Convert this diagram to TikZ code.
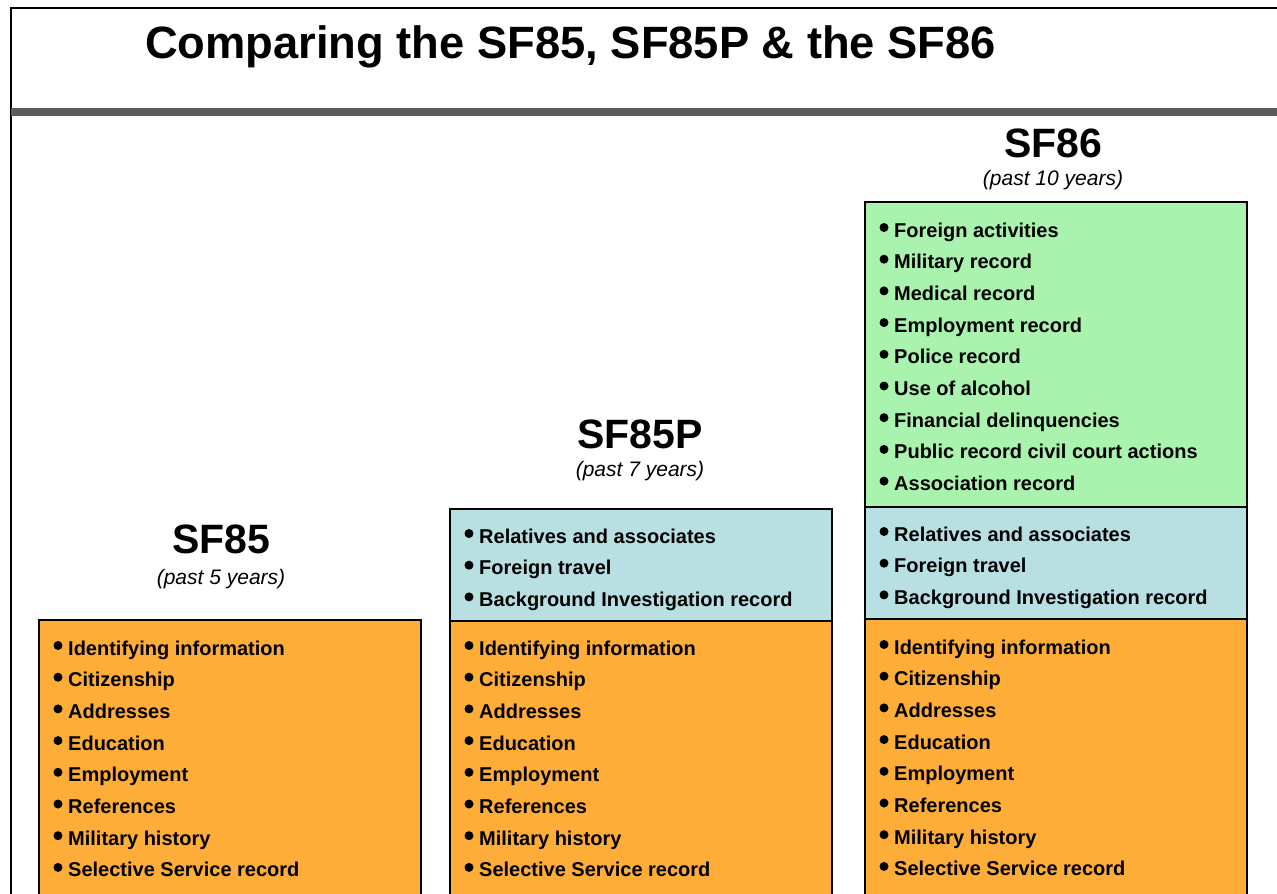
\documentclass[tikz,border=0pt]{standalone}
\usepackage{fontspec}
\setmainfont{Liberation Sans}
\definecolor{boxorange}{HTML}{FFAD39}
\definecolor{boxblue}{HTML}{B8E0E3}
\definecolor{boxgreen}{HTML}{A9F3AE}
\definecolor{bargray}{HTML}{5B5B5B}
\tikzset{
  box/.style={draw=black, line width=1.6pt, anchor=north west, inner sep=0pt, minimum width=382pt},
  itm/.style={anchor=base west, inner sep=0pt, font=\fontsize{20pt}{24pt}\selectfont\bfseries},
  hdr/.style={anchor=base, inner sep=0pt, font=\fontsize{41pt}{48pt}\selectfont\bfseries},
  sub/.style={anchor=base, inner sep=0pt, font=\fontsize{21pt}{25pt}\selectfont\itshape},
  ttl/.style={anchor=base west, inner sep=0pt, font=\fontsize{45.3pt}{54pt}\selectfont\bfseries},
  frameline/.style={draw=black, line width=2pt}
}
\newcommand\itemcol[4]{%
  \foreach \t [count=\i] in {#4} {%
    \fill ({#2-10},{#3+31.7*(\i-1)-9.5}) circle[radius=4.5pt];
    \node[itm] (#1\i) at (#2,{#3+31.7*(\i-1)}) {\t};
  }%
}
\begin{document}
\begin{tikzpicture}[x=1pt,y=-1pt]
\useasboundingbox (0,0) rectangle (1277,894);
\clip (0,0) rectangle (1277,894);
% frame and title bar
\coordinate (ftl) at (11,8);
\coordinate (ftr) at (1280,8);
\coordinate (fbl) at (11,900);
\draw[frameline] (ftr) -- (ftl) -- (fbl);
\fill[bargray] (11,108) rectangle (1280,116);
\node[ttl] (title) at (145,58) {Comparing the SF85, SF85P \& the SF86};
% boxes
\node[box, fill=boxorange, minimum height=290pt] (o85) at (38,619) {};
\node[box, fill=boxblue, minimum height=112pt] (b85p) at (449,508) {};
\node[box, fill=boxorange, minimum height=290pt] (o85p) at (449,620) {};
\node[box, fill=boxgreen, minimum height=305pt] (g86) at (864,201) {};
\node[box, fill=boxblue, minimum height=112pt] (b86) at (864,506) {};
\node[box, fill=boxorange, minimum height=290pt] (o86) at (864,618) {};
% headers
\node[hdr] (h85) at (221,553) {SF85};
\node[sub] (s85) at (221,584.5) {(past 5 years)};
\node[hdr] (h85p) at (640,448.5) {SF85P};
\node[sub] (s85p) at (640,476.5) {(past 7 years)};
\node[hdr] (h86) at (1053,157.5) {SF86};
\node[sub] (s86) at (1053,185.5) {(past 10 years)};
% items
\itemcol{a}{68}{655}{Identifying information,Citizenship,Addresses,Education,Employment,References,Military history,Selective Service record}
\itemcol{bm}{479}{543}{Relatives and associates,Foreign travel,Background Investigation record}
\itemcol{b}{479}{655}{Identifying information,Citizenship,Addresses,Education,Employment,References,Military history,Selective Service record}
\itemcol{ct}{894}{237}{Foreign activities,Military record,Medical record,Employment record,Police record,Use of alcohol,Financial delinquencies,Public record civil court actions,Association record}
\itemcol{cm}{894}{541}{Relatives and associates,Foreign travel,Background Investigation record}
\itemcol{c}{894}{654}{Identifying information,Citizenship,Addresses,Education,Employment,References,Military history,Selective Service record}
\end{tikzpicture}
\end{document}
